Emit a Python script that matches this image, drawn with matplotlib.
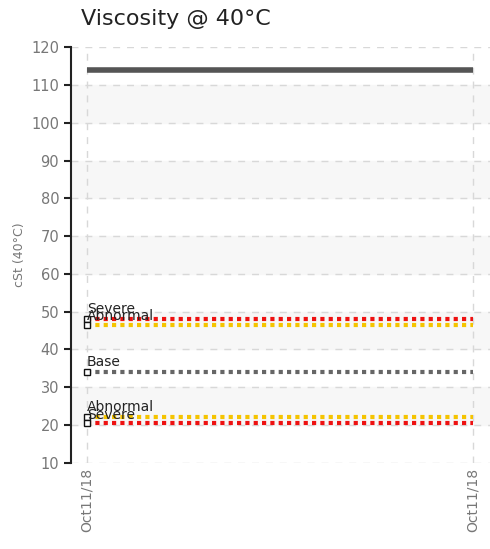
import matplotlib
matplotlib.use("Agg")
import matplotlib.pyplot as plt

dates = ["Oct11/18", "Oct11/18"]
xpos = [0, 1]
viscosity = [114, 114]
limit_names = ["Severe", "Abnormal", "Base", "Abnormal", "Severe"]
limit_values = [48, 46.5, 34, 22, 20.5]
limit_colors = ["#ee1111", "#f5c400", "#666666", "#f5c400", "#ee1111"]
label_offsets = [0.9, 0.6, 0.9, 0.9, 0.4]

fig = plt.figure(figsize=(4.9, 5.49), dpi=100)
ax = fig.add_axes([0.145, 0.157, 0.855, 0.757])
ax.set_ylim(10, 120)
ax.set_xlim(-0.041, 1.044)
for lo in range(20, 120, 20):
    ax.axhspan(lo, lo + 10, color="#f7f7f7", zorder=0)
ax.set_yticks(range(10, 121, 10))
ax.set_xticks(xpos)
ax.set_xticklabels(dates, rotation=90, color="#777777", fontsize=10)
ax.grid(True, ls=(0, (5, 5)), color="#d8d8d8", lw=1)
ax.tick_params(axis="y", colors="#777777", labelsize=10.5, length=5, width=1.5)
ax.tick_params(axis="y", color="#222222")
ax.tick_params(axis="x", length=0)
for s in ["top", "right", "bottom"]:
    ax.spines[s].set_visible(False)
ax.spines["left"].set_linewidth(1.5)
ax.spines["left"].set_color("#222222")

ax.plot(xpos, viscosity, color="#555555", lw=4, solid_capstyle="butt", zorder=3)
for name, v, c, off in zip(limit_names, limit_values, limit_colors, label_offsets):
    ax.plot(xpos, [v, v], color=c, lw=3, ls=(0, (1, 1)), zorder=3)
    ax.plot([0], [v], marker="s", ms=5, mfc="white", mec="#111111", mew=1, zorder=4)
    ax.text(0, v + off, name, fontsize=10, color="#222222", va="bottom", ha="left", zorder=5)

ax.set_ylabel("cSt (40°C)", color="#777777", fontsize=9)
fig.text(0.165, 0.965, "Viscosity @ 40°C", fontsize=16, color="#222222", va="center")
fig.savefig("out.png", dpi=100)
